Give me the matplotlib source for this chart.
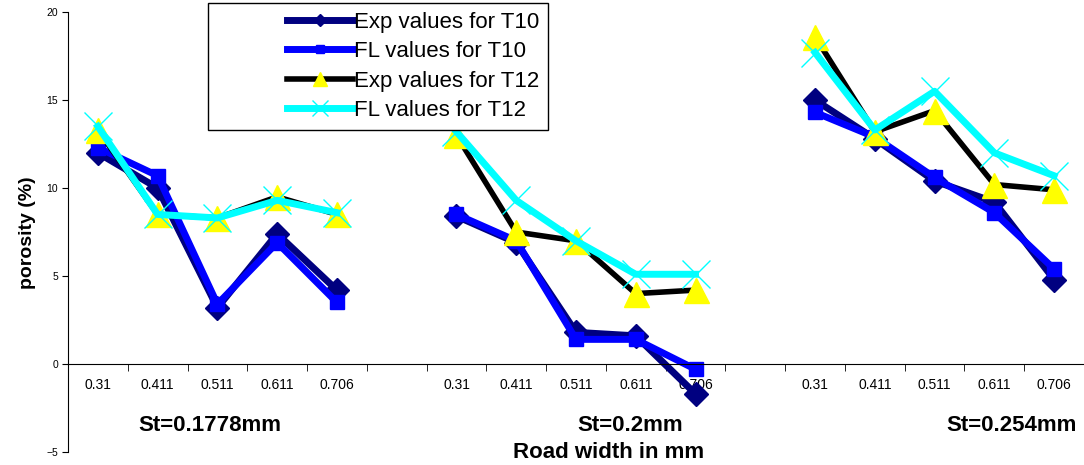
import numpy as np
import matplotlib
matplotlib.use("Agg")
import matplotlib.pyplot as plt
from matplotlib.legend_handler import HandlerLine2D

plt.rcParams["font.family"] = ["Liberation Sans", "DejaVu Sans"]

# road widths for the three slice-thickness groups, blank slot between groups
road_width = ["0.31", "0.411", "0.511", "0.611", "0.706", "",
              "0.31", "0.411", "0.511", "0.611", "0.706", "",
              "0.31", "0.411", "0.511", "0.611", "0.706"]
groups = ["St=0.1778mm", "St=0.2mm", "St=0.254mm"]
nan = np.nan

exp_t10 = [12.0, 10.0, 3.2, 7.4, 4.2, nan,
           8.4, 6.9, 1.8, 1.6, -1.7, nan,
           15.0, 12.8, 10.4, 9.2, 4.8]
fl_t10 = [12.3, 10.7, 3.4, 6.9, 3.5, nan,
          8.5, 7.0, 1.4, 1.4, -0.3, nan,
          14.3, 12.9, 10.6, 8.6, 5.4]
exp_t12 = [13.3, 8.5, 8.3, 9.5, 8.5, nan,
           13.0, 7.5, 7.0, 4.0, 4.2, nan,
           18.6, 13.2, 14.4, 10.2, 9.9]
fl_t12 = [13.5, 8.5, 8.3, 9.3, 8.6, nan,
          13.2, 9.3, 7.0, 5.1, 5.1, nan,
          17.7, 13.3, 15.5, 12.0, 10.7]

x = np.arange(len(road_width))

fig = plt.figure(figsize=(10.84, 4.65), dpi=100)
ax = fig.add_axes([0.0627, 0.028, 0.9373, 0.946])

ax.plot(x, exp_t10, color="#000080", lw=5, marker="D", ms=12,
        mfc="#000080", mec="#000080", label="Exp values for T10")
ax.plot(x, fl_t10, color="#0000FF", lw=5, marker="s", ms=10,
        mfc="#0000FF", mec="#0000FF", label="FL values for T10")
ax.plot(x, exp_t12, color="black", lw=4, marker="^", ms=18,
        mfc="#FFFF00", mec="#FFFF00", label="Exp values for T12")
ax.plot(x, fl_t12, color="#00FFFF", lw=5, marker="x", ms=20, mew=1,
        mec="#00FFFF", label="FL values for T12")

ax.set_xlim(-0.5, len(road_width) - 0.5)
ax.set_ylim(-5, 20)
ax.set_yticks([-5, 0, 5, 10, 15, 20])
ax.tick_params(axis="y", direction="out", length=4, labelsize=7.5, pad=3)

ax.set_xticks(x)
ax.set_xticklabels(road_width, fontsize=7.5)
ax.set_xticks(np.arange(0.5, len(road_width) - 0.5, 1), minor=True)
ax.tick_params(axis="x", which="major", length=0, pad=10)
ax.tick_params(axis="x", which="minor", direction="out", length=5)

ax.spines["bottom"].set_position(("data", 0))
ax.spines["top"].set_visible(False)
ax.spines["right"].set_visible(False)

# group captions under the axis
for pos, name in zip([1.87, 8.9, 15.29], groups):
    ax.text(pos, -3.5, name, ha="center", va="center",
            fontsize=16, fontweight="bold")

fig.text(0.561, 0.026, "Road width in mm", ha="center", va="center",
         fontsize=16, fontweight="bold")
fig.text(0.025, 0.5, "porosity (%)", rotation=90, ha="center", va="center",
         fontsize=14, fontweight="bold")

# handle drawn on the right part of a wide handle box, like the original
hmap = {line: HandlerLine2D(xpad=3.15, marker_pad=0.3) for line in ax.get_lines()}
leg = ax.legend(loc="upper left", bbox_to_anchor=(0.138, 1.021),
                borderaxespad=0, fontsize=16, handlelength=6.1,
                handletextpad=0.05, markerscale=0.55, fancybox=False,
                framealpha=1, edgecolor="black", borderpad=0.4,
                labelspacing=0.38, handler_map=hmap)
leg.get_frame().set_linewidth(1)

fig.savefig("out.png", dpi=100)
